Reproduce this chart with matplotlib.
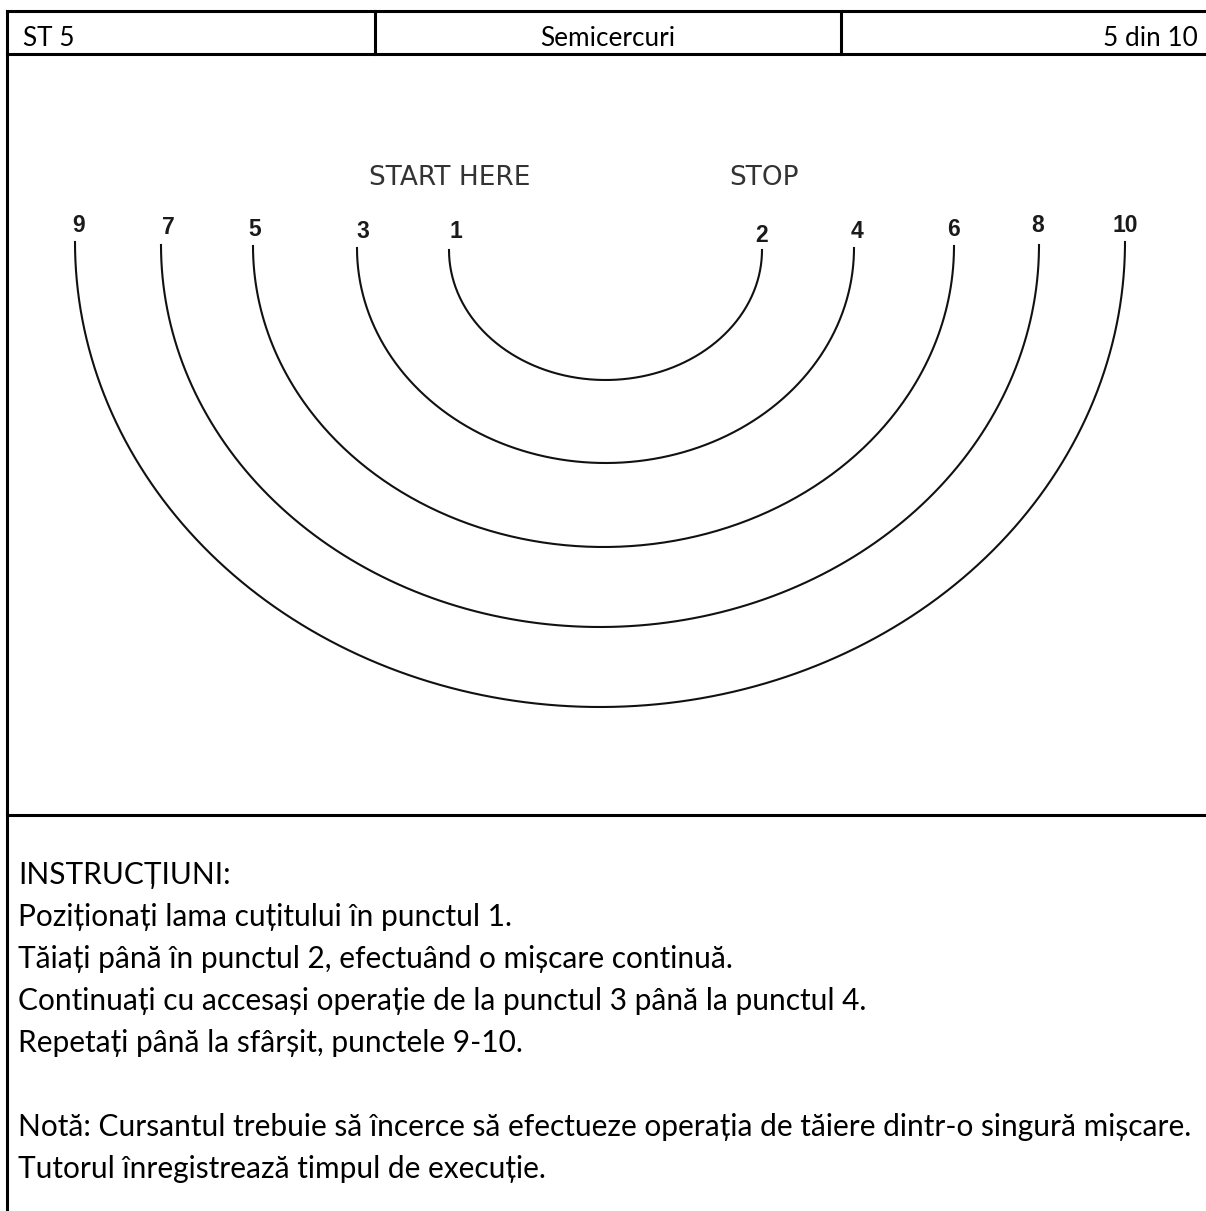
import numpy as np
import matplotlib.pyplot as plt

# Antet tabel
header_texts = ["ST 5", "Semicercuri", "5 din 10"]

# Semicercuri (coordonate in pixeli)
arc_left_x = [449, 357, 253, 161, 75]
arc_right_x = [762, 854, 954, 1039, 1125]
arc_top_y = [250, 248, 246, 245, 242]
arc_bottom_y = [380, 463, 547, 627, 707]

# Etichete puncte
left_labels = ["1", "3", "5", "7", "9"]
right_labels = ["2", "4", "6", "8", "10"]
left_label_xy = [(456, 232), (363, 232), (255, 229), (168, 228), (79, 226)]
right_label_xy = [(762, 235), (857, 232), (954, 230), (1038, 226), (1125, 226)]

start_text = "START HERE"
stop_text = "STOP"

instructiuni = [
    "INSTRUCȚIUNI:",
    "Poziționați lama cuțitului în punctul 1.",
    "Tăiați până în punctul 2, efectuând o mișcare continuă.",
    "Continuați cu accesași operație de la punctul 3 până la punctul 4.",
    "Repetați până la sfârșit, punctele 9-10.",
    "",
    "Notă: Cursantul trebuie să încerce să efectueze operația de tăiere dintr-o singură mișcare.",
    "Tutorul înregistrează timpul de execuție.",
]

W, H = 1206, 1211
fig = plt.figure(figsize=(W / 100, H / 100), dpi=100)
ax = fig.add_axes([0, 0, 1, 1])
ax.set_xlim(0, W)
ax.set_ylim(H, 0)
ax.axis('off')

# Chenarul tabelului
lw_border = 2.2
ax.plot([7, W], [11, 11], color='black', lw=lw_border)
ax.plot([7, W], [54, 54], color='black', lw=lw_border)
ax.plot([7, 7], [11, H], color='black', lw=lw_border)
ax.plot([375, 375], [11, 54], color='black', lw=lw_border)
ax.plot([841, 841], [11, 54], color='black', lw=lw_border)
ax.plot([7, W], [815, 815], color='black', lw=lw_border)

txt_font = ['Lato', 'DejaVu Sans']
fs = 18.8
ax.text(23, 46, header_texts[0], ha='left', va='baseline', fontsize=fs, family=txt_font)
ax.text(608, 46, header_texts[1], ha='center', va='baseline', fontsize=fs, family=txt_font)
ax.text(1198, 46, header_texts[2], ha='right', va='baseline', fontsize=fs, family=txt_font)

# Desenul cu semicercuri
t = np.linspace(0, np.pi, 300)
for xl, xr, yt, yb in zip(arc_left_x, arc_right_x, arc_top_y, arc_bottom_y):
    cx = (xl + xr) / 2
    a = (xr - xl) / 2
    b = yb - yt
    ax.plot(cx - a * np.cos(t), yt + b * np.sin(t), color='#111111', lw=1.5)

for lab, (x, y) in zip(left_labels + right_labels, left_label_xy + right_label_xy):
    ax.text(x, y, lab, ha='center', va='center', fontsize=16.5, fontweight='bold',
            family='Liberation Sans', color='#1a1a1a')

ax.text(450, 178, start_text, ha='center', va='center', fontsize=19, family='DejaVu Sans', color='#333333')
ax.text(764, 178, stop_text, ha='center', va='center', fontsize=19, family='DejaVu Sans', color='#333333')

# Instructiuni
fs_body = 21.5
y0 = 884
for i, line in enumerate(instructiuni):
    ax.text(18, y0 + 42 * i, line, ha='left', va='baseline', fontsize=fs_body, family=txt_font)

fig.savefig('out.png', dpi=100)
